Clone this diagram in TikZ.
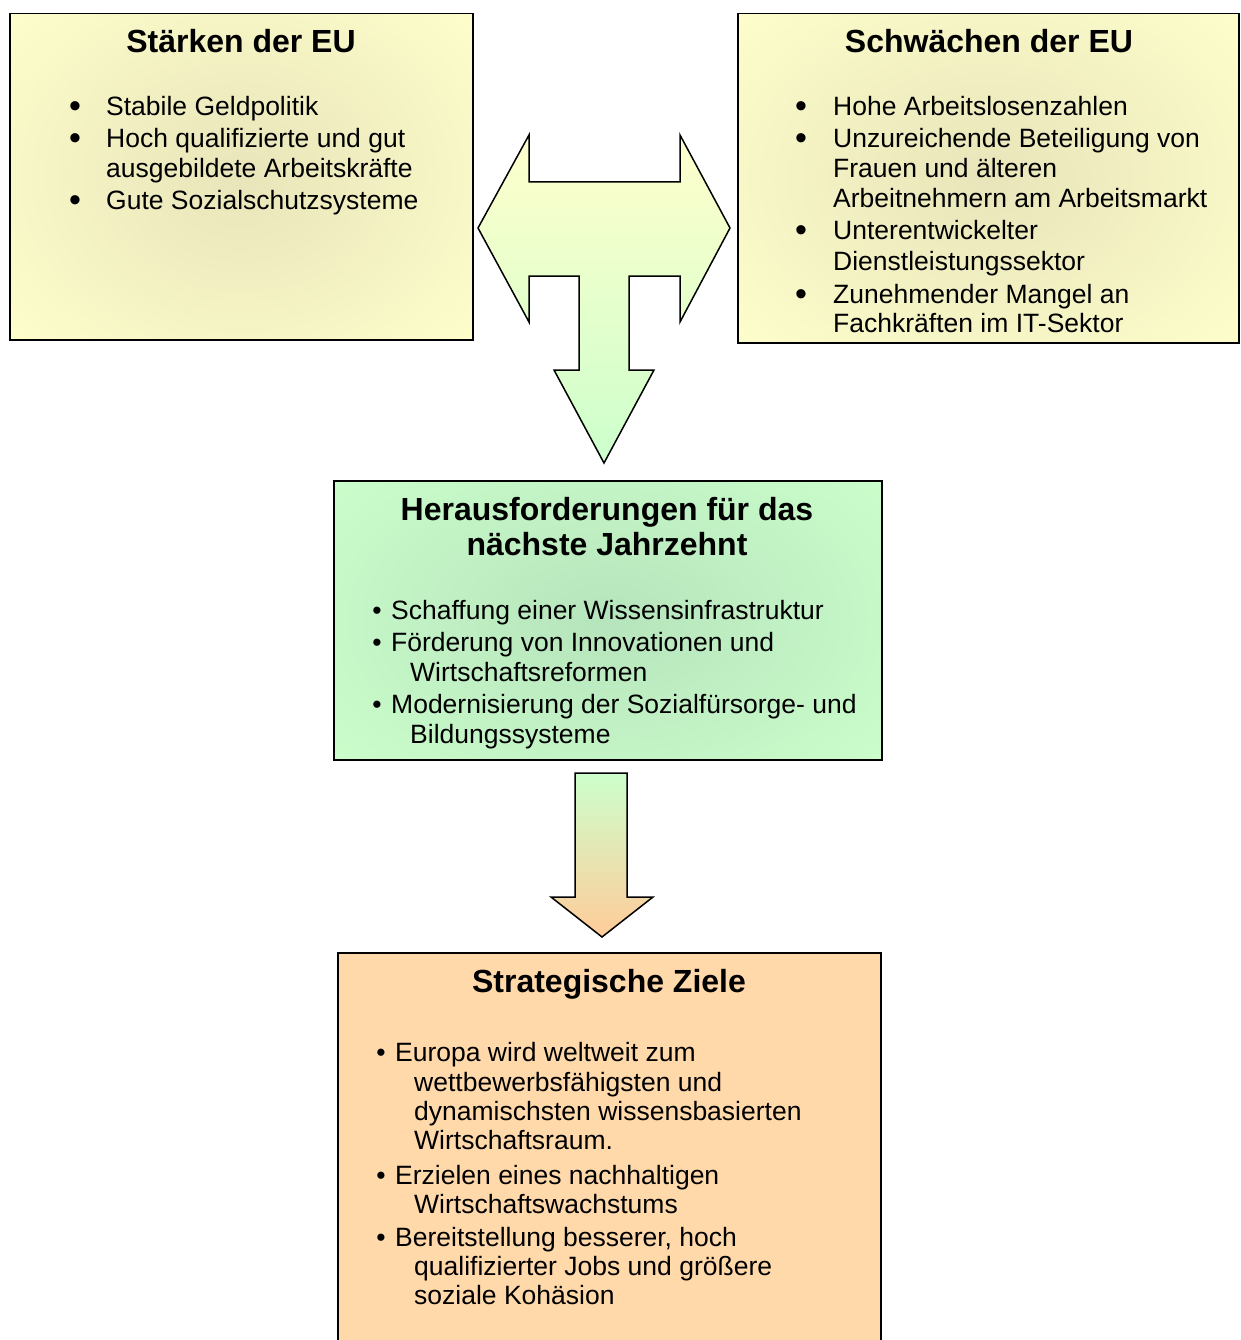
\documentclass[tikz,border=0pt]{standalone}
\usepackage{fontspec}
\setmainfont{Liberation Sans}
\definecolor{ylw}{HTML}{FFFFCC}
\definecolor{ylwc}{HTML}{E8E5BA}
\definecolor{grn}{HTML}{CCFFCC}
\definecolor{grnc}{HTML}{B6E4BC}
\definecolor{peach}{HTML}{FFD9AA}
\definecolor{orng}{HTML}{FFCC99}
\begin{document}
\begin{tikzpicture}[x=1pt,y=-1pt,
  box/.style={draw=black, line width=1.5pt, inner sep=0pt, anchor=north west},
  txt/.style={inner sep=0pt, anchor=base west, font=\fontsize{26.5}{31}\selectfont},
  bul/.style={inner sep=0pt, anchor=base, font=\fontsize{26.5}{31}\selectfont},
  bigbul/.style={inner sep=0pt, anchor=base, font=\fontsize{34}{31}\selectfont},
  ttl/.style={inner sep=0pt, anchor=base, font=\bfseries\fontsize{32}{36}\selectfont},
  arrowshape/.style={draw=black, line width=1.5pt, line join=miter}]
\useasboundingbox (0,0) rectangle (1240,1340);
\fill[white] (0,0) rectangle (1240,1340);

% boxes
\node[box, fill=ylw, minimum width=463pt, minimum height=326pt,
  path picture={\shade[inner color=ylwc, outer color=ylw]
    (path picture bounding box.center) ellipse (330pt and 260pt);}] (strong) at (9,13) {};
\node[box, fill=ylw, minimum width=501pt, minimum height=329pt,
  path picture={\shade[inner color=ylwc, outer color=ylw]
    (path picture bounding box.center) ellipse (360pt and 260pt);}] (weak) at (737,13) {};
\node[box, fill=grn, minimum width=548pt, minimum height=279pt,
  path picture={\shade[inner color=grnc, outer color=grn]
    (path picture bounding box.center) ellipse (380pt and 230pt);}] (chal) at (333,480) {};
\node[box, fill=peach, minimum width=543pt, minimum height=400pt] (goals) at (337,952) {};

% T-shaped double arrow
\shade[arrowshape, top color=ylw, bottom color=grn]
  (478,228) -- (529,135) -- (529,182) -- (680,182) -- (680,135) -- (730,228)
  -- (680,322) -- (680,276) -- (629,276) -- (629,370) -- (654,370) -- (604,463)
  -- (554,370) -- (579,370) -- (579,276) -- (529,276) -- (529,322) -- cycle;
\coordinate (tip1) at (604,463);

% down arrow
\shade[arrowshape, top color=grn, bottom color=orng]
  (575,773) -- (627,773) -- (627,897) -- (653,897) -- (602,937) -- (551,897)
  -- (575,897) -- cycle;
\coordinate (tip2) at (602,937);

% Staerken
\node[ttl] (st) at (241,53) {Stärken der EU};
\node[bigbul] (sb1) at (75,118) {•};
\node[txt] (s1) at (106,116) {Stabile Geldpolitik};
\node[bigbul] (sb2) at (75,150) {•};
\node[txt] (s2) at (106,148) {Hoch qualifizierte und gut};
\node[txt] (s2b) at (106,178) {ausgebildete Arbeitskräfte};
\node[bigbul] (sb3) at (75,212) {•};
\node[txt] (s3) at (106,210) {Gute Sozialschutzsysteme};

% Schwaechen
\node[ttl] (wt) at (989,53) {Schwächen der EU};
\node[bigbul] (wb1) at (801,118) {•};
\node[txt] (w1) at (833,116) {Hohe Arbeitslosenzahlen};
\node[bigbul] (wb2) at (801,150) {•};
\node[txt] (w2) at (833,148) {Unzureichende Beteiligung von};
\node[txt] (w2b) at (833,178) {Frauen und älteren};
\node[txt] (w2c) at (833,208) {Arbeitnehmern am Arbeitsmarkt};
\node[bigbul] (wb3) at (801,242) {•};
\node[txt] (w3) at (833,240) {Unterentwickelter};
\node[txt] (w3b) at (833,270) {Dienstleistungssektor};
\node[bigbul] (wb4) at (801,305) {•};
\node[txt] (w4) at (833,303) {Zunehmender Mangel an};
\node[txt] (w4b) at (833,332) {Fachkräften im IT-Sektor};

% Herausforderungen
\node[ttl] (ct1) at (607,520) {Herausforderungen für das};
\node[ttl] (ct2) at (607,555) {nächste Jahrzehnt};
\node[bul] (cb1) at (377,619) {•};
\node[txt] (c1) at (391,619) {Schaffung einer Wissensinfrastruktur};
\node[bul] (cb2) at (377,651) {•};
\node[txt] (c2) at (391,651) {Förderung von Innovationen und};
\node[txt] (c2b) at (410,681) {Wirtschaftsreformen};
\node[bul] (cb3) at (377,713) {•};
\node[txt] (c3) at (391,713) {Modernisierung der Sozialfürsorge- und};
\node[txt] (c3b) at (410,743) {Bildungssysteme};

% Strategische Ziele
\node[ttl] (gt) at (609,992) {Strategische Ziele};
\node[bul] (gb1) at (381,1061) {•};
\node[txt] (g1) at (395,1061) {Europa wird weltweit zum};
\node[txt] (g1b) at (414,1091) {wettbewerbsfähigsten und};
\node[txt] (g1c) at (414,1120) {dynamischsten wissensbasierten};
\node[txt] (g1d) at (414,1149) {Wirtschaftsraum.};
\node[bul] (gb2) at (381,1184) {•};
\node[txt] (g2) at (395,1184) {Erzielen eines nachhaltigen};
\node[txt] (g2b) at (414,1213) {Wirtschaftswachstums};
\node[bul] (gb3) at (381,1246) {•};
\node[txt] (g3) at (395,1246) {Bereitstellung besserer, hoch};
\node[txt] (g3b) at (414,1275) {qualifizierter Jobs und größere};
\node[txt] (g3c) at (414,1304) {soziale Kohäsion};
\end{tikzpicture}
\end{document}
